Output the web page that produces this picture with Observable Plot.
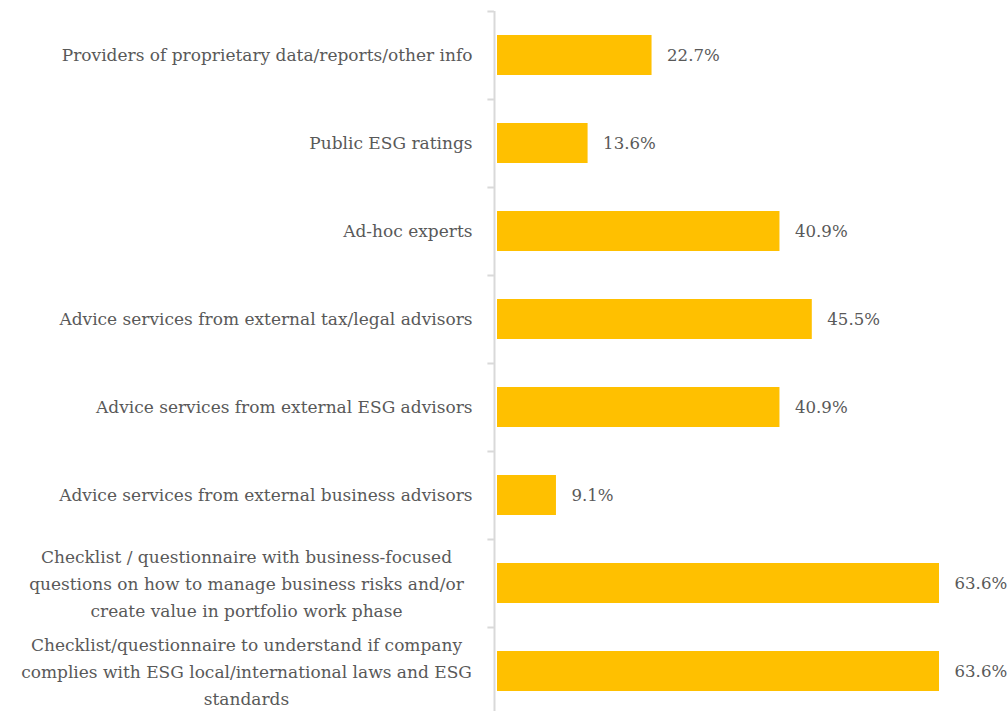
<!DOCTYPE html>
<html><head><meta charset="utf-8">
<script src="https://cdn.jsdelivr.net/npm/d3@7"></script>
<script src="https://cdn.jsdelivr.net/npm/@observablehq/plot@0.6"></script>
<style>html,body{margin:0;padding:0;background:#fff;overflow:hidden}</style>
</head><body><div id="chart"></div>
<script>
const categories = [
  "Providers of proprietary data/reports/other info",
  "Public ESG ratings",
  "Ad-hoc experts",
  "Advice services from external tax/legal advisors",
  "Advice services from external ESG advisors",
  "Advice services from external business advisors",
  "Checklist / questionnaire with business-focused\nquestions on how to manage business risks and/or\ncreate value in portfolio work phase",
  "Checklist/questionnaire to understand if company\ncomplies with ESG local/international laws and ESG\nstandards"
];
const values = [22.7, 13.6, 40.9, 45.5, 40.9, 9.1, 63.6, 63.6];

const data = categories.map((c, i) => ({category: c, value: values[i]}));
const multi = d => d.category.includes("\n");

const chart = Plot.plot({
  width: 1008,
  height: 711,
  marginTop: 11,
  marginBottom: -4,
  marginLeft: 492,
  marginRight: 69,
  x: {domain: [0, 63.6], axis: null},
  y: {domain: categories, axis: null, paddingInner: 0.545, paddingOuter: 0.2725},
  style: {fontFamily: "'DejaVu Serif', serif", fontSize: "17px", color: "#595959", background: "#fff", overflow: "visible"},
  marks: [
    Plot.barX(data, {x: "value", y: "category", fill: "#FFC000", insetLeft: 5}),
    Plot.ruleX([0], {stroke: "#D9D9D9", strokeWidth: 2, dx: 2}),
    Plot.ruleY(data, {y: "category", dy: -44, x1: -0.65, x2: 0.28, stroke: "#D9D9D9", strokeWidth: 2}),
    Plot.text(data, {filter: d => !multi(d), y: "category", text: "category", frameAnchor: "left", dx: -20, textAnchor: "end", lineAnchor: "middle"}),
    Plot.text(data, {filter: multi, y: "category", text: "category", frameAnchor: "left", dx: -246, dy: -2, textAnchor: "middle", lineAnchor: "middle", lineHeight: 1.6}),
    Plot.text(data, {x: "value", y: "category", text: d => d.value.toFixed(1) + "%", textAnchor: "start", dx: 15, fontSize: 16.6})
  ]
});
document.getElementById("chart").appendChild(chart);
</script>
</body></html>
